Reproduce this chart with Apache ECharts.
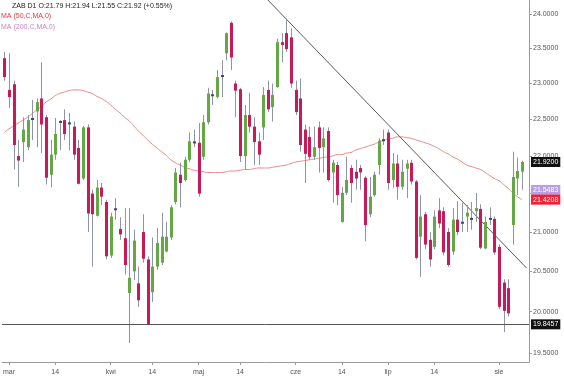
<!DOCTYPE html>
<html><head><meta charset="utf-8">
<script src="https://cdn.jsdelivr.net/npm/echarts@6/dist/echarts.min.js"></script>
<style>html,body{margin:0;padding:0;background:#fff}#c{width:564px;height:380px}</style>
</head><body><div id="c"></div>
<script>
const xLabels = ['mar','14','kwi','14','maj','14','cze','14','lip','14','sie'];
const xLabelIdx = [1,11,23,32,42,51,63,73,83,93,107];
const slotCount = 114;
const opens  = [23.36,22.91,22.99,22.00,22.19,22.12,22.51,22.61,22.79,22.53,21.75,22.02,22.47,22.49,22.45,22.40,22.11,21.70,22.39,21.50,21.21,21.58,21.39,20.70,21.30,21.04,20.92,20.23,20.50,20.35,21.00,20.65,20.24,20.56,20.61,20.75,20.93,21.39,21.75,21.68,21.95,22.19,22.18,21.99,22.46,22.84,22.81,23.11,23.43,23.87,23.00,22.92,22.00,22.56,22.40,22.20,22.39,22.91,22.67,22.95,23.59,23.72,23.66,22.91,22.79,22.36,22.26,21.99,22.39,22.12,22.34,21.78,21.88,21.13,21.51,21.84,21.79,21.84,21.71,21.23,21.48,21.88,22.22,22.32,21.68,21.90,21.59,21.83,21.91,21.66,20.94,21.23,20.90,20.81,21.28,21.27,21.00,20.75,21.16,21.12,21.20,21.17,21.27,21.30,20.79,21.17,21.17,20.81,20.36,20.29,21.09,21.70,21.79];
const highs  = [23.45,23.43,23.04,22.22,22.53,22.56,22.77,22.79,23.30,22.56,22.22,22.52,22.49,22.64,22.59,22.47,22.22,22.41,22.43,21.55,21.68,21.64,21.42,21.25,21.44,21.19,21.31,21.31,21.03,20.56,21.23,20.69,20.93,21.05,21.25,21.13,21.35,21.84,21.91,21.99,22.32,22.36,22.45,22.56,22.94,22.91,23.19,23.33,23.73,23.89,23.04,22.94,22.70,22.87,22.53,22.32,22.95,23.04,23.00,23.64,23.72,23.91,23.79,23.04,23.07,22.43,22.40,22.40,22.47,22.39,22.39,21.95,21.92,21.59,21.99,21.88,21.95,21.88,21.73,21.72,21.79,22.24,22.36,22.36,22.04,22.02,21.95,21.95,21.95,21.68,21.48,21.26,21.00,21.28,21.44,21.32,21.05,21.31,21.40,21.38,21.35,21.39,21.51,21.36,21.20,21.32,21.20,20.84,20.40,20.40,22.06,21.98,21.94];
const lows   = [23.04,22.66,21.82,21.59,21.92,22.08,22.22,22.12,22.04,21.62,21.58,21.95,22.08,22.22,22.08,21.95,21.62,21.68,21.00,20.56,21.20,21.35,20.65,20.67,21.16,20.90,20.46,19.62,20.39,20.06,20.61,19.85,20.12,20.52,20.58,20.74,20.90,21.36,21.32,21.66,21.92,22.12,21.46,21.95,22.43,22.70,22.79,22.81,23.33,23.19,22.53,21.92,21.82,22.32,21.88,21.88,22.22,22.60,22.47,22.94,23.30,23.45,22.94,22.56,22.06,21.64,21.95,21.95,21.78,21.78,21.66,21.38,21.35,21.12,21.48,21.38,21.55,21.55,20.88,21.19,21.46,21.75,22.15,21.55,21.58,21.42,21.55,21.44,21.62,20.65,20.43,20.78,20.56,20.78,21.05,20.70,20.56,20.71,20.96,21.00,21.00,21.03,21.13,20.78,20.78,21.09,20.71,20.03,19.75,19.94,20.84,21.48,21.55];
const closes = [23.09,22.81,22.15,21.94,22.36,22.49,22.50,22.74,22.43,21.71,22.02,22.30,22.46,22.30,22.44,22.02,21.63,22.39,21.24,21.23,21.58,21.46,20.69,21.20,21.29,20.97,20.58,20.42,20.89,20.14,20.66,19.85,20.56,20.86,20.94,20.94,21.32,21.78,21.64,21.95,22.20,22.18,21.50,22.46,22.86,22.83,23.09,23.10,23.72,23.37,22.90,22.00,22.56,22.40,22.19,22.02,22.84,22.64,22.84,23.59,23.55,23.49,23.00,22.60,22.15,22.03,21.99,22.12,22.11,22.24,21.68,21.91,21.48,21.51,21.68,21.64,21.70,21.78,21.09,21.46,21.75,22.21,22.21,21.64,21.90,21.59,21.79,21.90,21.66,20.67,21.20,20.84,20.65,21.20,21.11,20.74,20.58,21.16,21.00,21.12,21.25,21.17,21.31,20.80,21.13,21.17,20.74,20.06,20.01,19.98,21.72,21.80,21.92];
const ma50   = [22.32,22.37,22.41,22.45,22.49,22.53,22.58,22.63,22.68,22.74,22.78,22.83,22.86,22.88,22.90,22.91,22.91,22.90,22.88,22.86,22.82,22.79,22.75,22.70,22.64,22.59,22.53,22.48,22.41,22.34,22.28,22.22,22.16,22.11,22.06,22.01,21.95,21.91,21.88,21.85,21.83,21.81,21.80,21.79,21.78,21.78,21.78,21.78,21.79,21.80,21.80,21.81,21.82,21.82,21.83,21.84,21.84,21.84,21.85,21.86,21.87,21.88,21.90,21.92,21.93,21.94,21.95,21.96,21.97,21.98,21.99,22.00,22.02,22.02,22.04,22.05,22.08,22.10,22.12,22.14,22.16,22.19,22.21,22.23,22.24,22.26,22.26,22.25,22.24,22.22,22.20,22.18,22.16,22.13,22.10,22.06,22.03,21.99,21.96,21.92,21.88,21.86,21.84,21.82,21.78,21.74,21.70,21.67,21.62,21.57,21.51,21.46,21.42];
const trendLine = [[55, 24.35], [113, 20.54]];
const supportLevel = 19.8457;
const lastPrice = 21.92;
const ma200Last = 21.5483;
const ma50Last = 21.4208;
const yTicks = [19.5,20,20.5,21,21.5,22,22.5,23,23.5,24];

const GREEN = '#64a846', RED = '#c8195a', DOJI = '#3d4676', WICK = '#8e94a6';
const FONT = 'Liberation Sans, Arial, sans-serif';
const categories = [];
for (let i = 0; i < slotCount; i++) categories.push(String(i));
const candles = opens.map((o, i) => [i, o, closes[i], lows[i], highs[i]]);
const labelMap = {};
xLabelIdx.forEach((k, j) => { labelMap[k] = xLabels[j]; });

const chart = echarts.init(document.getElementById('c'), null, {renderer: 'canvas'});
const priceLabel = (bg) => ({
  show: true, position: 'end', distance: 2, formatter: p => Number(p.value).toFixed(4),
  color: '#fff', backgroundColor: bg, padding: [2, 2, 1, 2], fontSize: 7, fontFamily: FONT
});
const hidden = {color: 'rgba(0,0,0,0)', width: 0};
chart.setOption({
  animation: false,
  grid: {left: -1.3, right: 35, top: 0, bottom: 18, containLabel: false},
  xAxis: {
    type: 'category', data: categories, boundaryGap: true,
    axisLine: {show: true, lineStyle: {color: '#9a9a9a', width: 1}},
    axisTick: {show: true, alignWithLabel: true, length: 3, interval: (i) => labelMap[i] !== undefined, lineStyle: {color: '#9a9a9a'}},
    axisLabel: {show: true, interval: (i) => labelMap[i] !== undefined, formatter: (v, i) => labelMap[i] || '',
      fontSize: 7, color: '#555', margin: 7, fontFamily: FONT},
    splitLine: {show: false}
  },
  yAxis: {
    type: 'log', logBase: 10, position: 'right', min: 19.393, max: 24.207,
    axisLine: {show: true, lineStyle: {color: '#9a9a9a', width: 1}},
    axisTick: {show: true, length: 3, customValues: yTicks, lineStyle: {color: '#9a9a9a'}},
    axisLabel: {show: true, customValues: yTicks, formatter: v => Number(v).toFixed(4), fontSize: 7, color: '#555', margin: 4, fontFamily: FONT},
    splitLine: {show: false}
  },
  series: [
    {
      type: 'line', name: 'MA50', data: ma50, symbol: 'none', smooth: true, z: 1,
      lineStyle: {color: '#e58585', width: 1},
      markLine: {
        symbol: 'none', silent: true, animation: false, precision: 4,
        data: [
          {yAxis: supportLevel, lineStyle: {color: '#555', width: 1, type: 'solid'}, label: priceLabel('#111')},
          {yAxis: lastPrice, lineStyle: hidden, label: priceLabel('#111')},
          {yAxis: ma200Last, lineStyle: hidden, label: priceLabel('#b9a0e0')},
          {yAxis: ma50Last, lineStyle: hidden, label: priceLabel('#ee2233')}
        ]
      }
    },
    {
      type: 'custom', name: 'ZAB', data: candles, z: 3,
      encode: {x: 0, y: [1, 2, 3, 4]},
      renderItem: function (params, api) {
        const i = api.value(0), o = api.value(1), c = api.value(2), l = api.value(3), h = api.value(4);
        const pO = api.coord([i, o]), pC = api.coord([i, c]), pL = api.coord([i, l]), pH = api.coord([i, h]);
        const x = Math.round(pO[0]) + 0.5;
        const top = Math.min(pO[1], pC[1]), bot = Math.max(pO[1], pC[1]);
        const doji = Math.abs(c - o) < 0.015;
        const color = doji ? DOJI : (c > o ? GREEN : RED);
        const w = 3;
        return {type: 'group', children: [
          {type: 'line', shape: {x1: x, y1: pH[1], x2: x, y2: pL[1]}, style: {stroke: WICK, lineWidth: 1}},
          {type: 'rect', shape: {x: x - w / 2, y: doji ? (top + bot) / 2 - 1 : top, width: w, height: doji ? 2 : Math.max(bot - top, 1)}, style: {fill: color}}
        ]};
      }
    },
    {
      type: 'line', name: 'trend', data: trendLine, symbol: 'none', z: 2,
      lineStyle: {color: '#5a5a5a', width: 1}
    }
  ],
  graphic: [
    {type: 'text', left: 12, top: 3, style: {text: 'ZAB D1 O:21.79 H:21.94 L:21.55 C:21.92 (+0.55%)', fill: '#222', fontSize: 7, fontFamily: FONT}},
    {type: 'text', left: 1, top: 13, style: {text: 'MA (50,C,MA,0)', fill: '#e8383f', fontSize: 7, fontFamily: FONT}},
    {type: 'text', left: 1, top: 24, style: {text: 'MA (200,C,MA,0)', fill: '#c986c9', fontSize: 7, fontFamily: FONT}}
  ]
});
</script></body></html>
